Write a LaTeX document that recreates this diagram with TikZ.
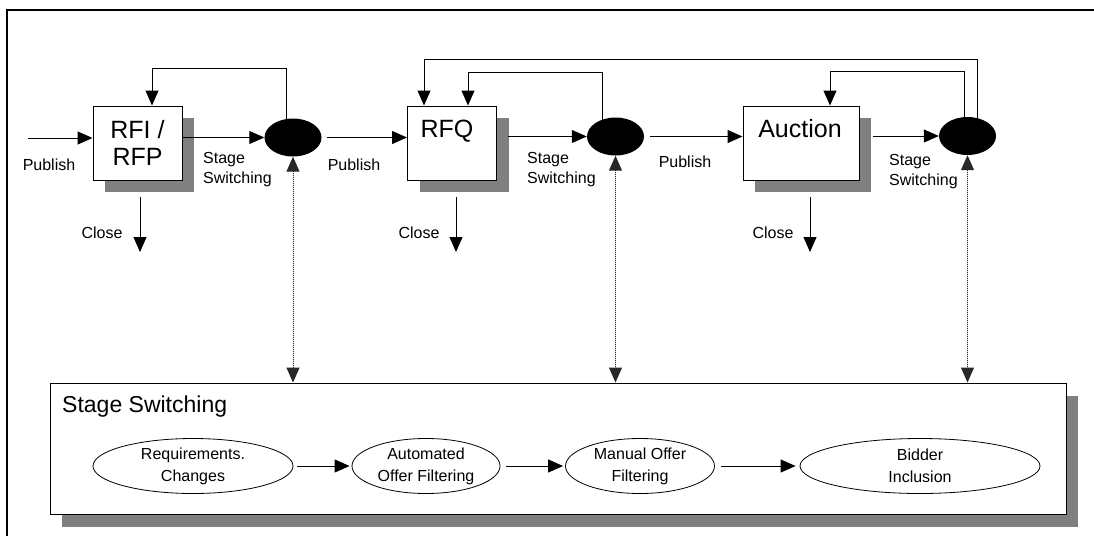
\documentclass[tikz,border=0pt]{standalone}
\usepackage{fontspec}
\setmainfont{Liberation Sans}
\usetikzlibrary{arrows.meta,shadows,shapes.geometric}

\definecolor{ShadowColor}{RGB}{128,128,128}
\definecolor{LinkColor}{RGB}{40,40,40}

\begin{document}
\begin{tikzpicture}[
		x=1pt, y=-1pt,
		>={Triangle[length=15pt,width=13pt]},
		lbl/.style={font=\fontsize{16}{20}\selectfont, align=left, inner sep=0pt},
		bigtext/.style={font=\fontsize{25}{27}\selectfont, align=center, inner sep=0pt},
		stagebox/.style={draw, line width=1pt, fill=white, minimum width=89pt, minimum height=74pt,
			drop shadow={shadow xshift=12pt, shadow yshift=-12pt, fill=ShadowColor, opacity=1}},
		hub/.style={ellipse, fill=black, minimum width=57pt, minimum height=38pt, inner sep=0pt},
		task/.style={ellipse, draw, line width=0.8pt, fill=white, align=center, inner sep=0pt,
			minimum height=55pt, font=\fontsize{16}{22}\selectfont},
		flow/.style={->, line width=1pt},
		link/.style={<->, densely dotted, line width=1pt, draw=LinkColor, fill=black}
	]
	\useasboundingbox (0,0) rectangle (1094,536);

	% Frame
	\draw[line width=1.8pt] (7,536) -- (7,10) -- (1094,10);

	% Stages
	\node[stagebox] (rfi) at (137.5,143) {};
	\node[stagebox] (rfq) at (452,143) {};
	\node[stagebox, minimum width=116pt] (auction) at (801,143) {};
	\node[bigtext] (rfitxt) at (rfi) {RFI /\\RFP};
	\node[bigtext, anchor=base] (rfqtxt) at (447,137) {RFQ};
	\node[bigtext, anchor=base] (auctiontxt) at (800,137) {Auction};

	% Switching points
	\node[hub] (hub1) at (293,137.5) {};
	\node[hub] (hub2) at (615.5,136.5) {};
	\node[hub] (hub3) at (967.5,136) {};

	% Publish and switch arrows
	\coordinate (start) at (28,138);
	\coordinate (rfqout) at (508,143);
	\coordinate (auctionout) at (873,143);
	\draw[flow] (start) -- (start -| rfi.west);
	\draw[flow] (rfi.east |- hub1) -- (hub1);
	\draw[flow] ([xshift=5pt]hub1.east) -- (rfq.west |- hub1);
	\draw[flow] (rfqout |- hub2) -- (hub2);
	\draw[flow] ([xshift=6pt]hub2.east) -- (auction.west |- hub2);
	\draw[flow] (auctionout |- hub3) -- (hub3);

	% Loops back
	\coordinate (back1) at (152,68);
	\coordinate (back2) at (468,72);
	\coordinate (back3) at (424,59);
	\coordinate (back4) at (830,71);
	\draw[flow] ([xshift=-7pt]hub1.center) |- (back1) -- (back1 |- rfi.north);
	\draw[flow] ([xshift=-13pt]hub2.center) |- (back2) -- (back2 |- rfq.north);
	\draw[flow] ([xshift=9.5pt]hub3.center) |- (back3) -- (back3 |- rfq.north);
	\draw[flow] ([xshift=-3.5pt]hub3.center) |- (back4) -- (back4 |- auction.north);

	% Close arrows
	\coordinate (close1a) at (140,197);
	\coordinate (close1b) at (140,252);
	\coordinate (close2a) at (456,197);
	\coordinate (close2b) at (456,252);
	\coordinate (close3a) at (810,197);
	\coordinate (close3b) at (810,252);
	\draw[flow] (close1a) -- (close1b);
	\draw[flow] (close2a) -- (close2b);
	\draw[flow] (close3a) -- (close3b);

	% Labels
	\node[lbl] (pub1) at (49,165) {Publish};
	\node[lbl] (pub2) at (354,165) {Publish};
	\node[lbl] (pub3) at (685,162) {Publish};
	\node[lbl, anchor=west] (sw1) at (203,170) {Stage\\Switching};
	\node[lbl, anchor=west] (sw2) at (527,170) {Stage\\Switching};
	\node[lbl, anchor=west] (sw3) at (889,172) {Stage\\Switching};
	\node[lbl] (cl1) at (102,233) {Close};
	\node[lbl] (cl2) at (419,233) {Close};
	\node[lbl] (cl3) at (773,233) {Close};

	% Stage switching box
	\node[draw, line width=1pt, fill=white, minimum width=1016pt, minimum height=131pt,
		drop shadow={shadow xshift=12pt, shadow yshift=-13pt, fill=ShadowColor, opacity=1}]
		(switching) at (558,448.5) {};
	\node[font=\fontsize{23}{25}\selectfont, anchor=west, inner sep=0pt] (swtitle) at (62,407) {Stage Switching};

	\node[task, minimum width=200pt] (req) at (193,466) {Requirements.\\Changes};
	\node[task, minimum width=148pt] (auto) at (426,466) {Automated\\Offer Filtering};
	\node[task, minimum width=149pt] (manual) at (640,466) {Manual Offer\\Filtering};
	\node[task, minimum width=240pt] (bidder) at (920,466) {Bidder\\Inclusion};
	\draw[flow, shorten <=4pt, shorten >=2pt] (req) -- (auto);
	\draw[flow, shorten <=6pt, shorten >=2pt] (auto) -- (manual);
	\draw[flow, shorten <=6pt, shorten >=4pt] (manual) -- (bidder);

	% Dotted links
	\draw[link] (hub1) -- (hub1 |- switching.north);
	\draw[link] (hub2) -- (hub2 |- switching.north);
	\draw[link] (hub3) -- (hub3 |- switching.north);

\end{tikzpicture}
\end{document}
